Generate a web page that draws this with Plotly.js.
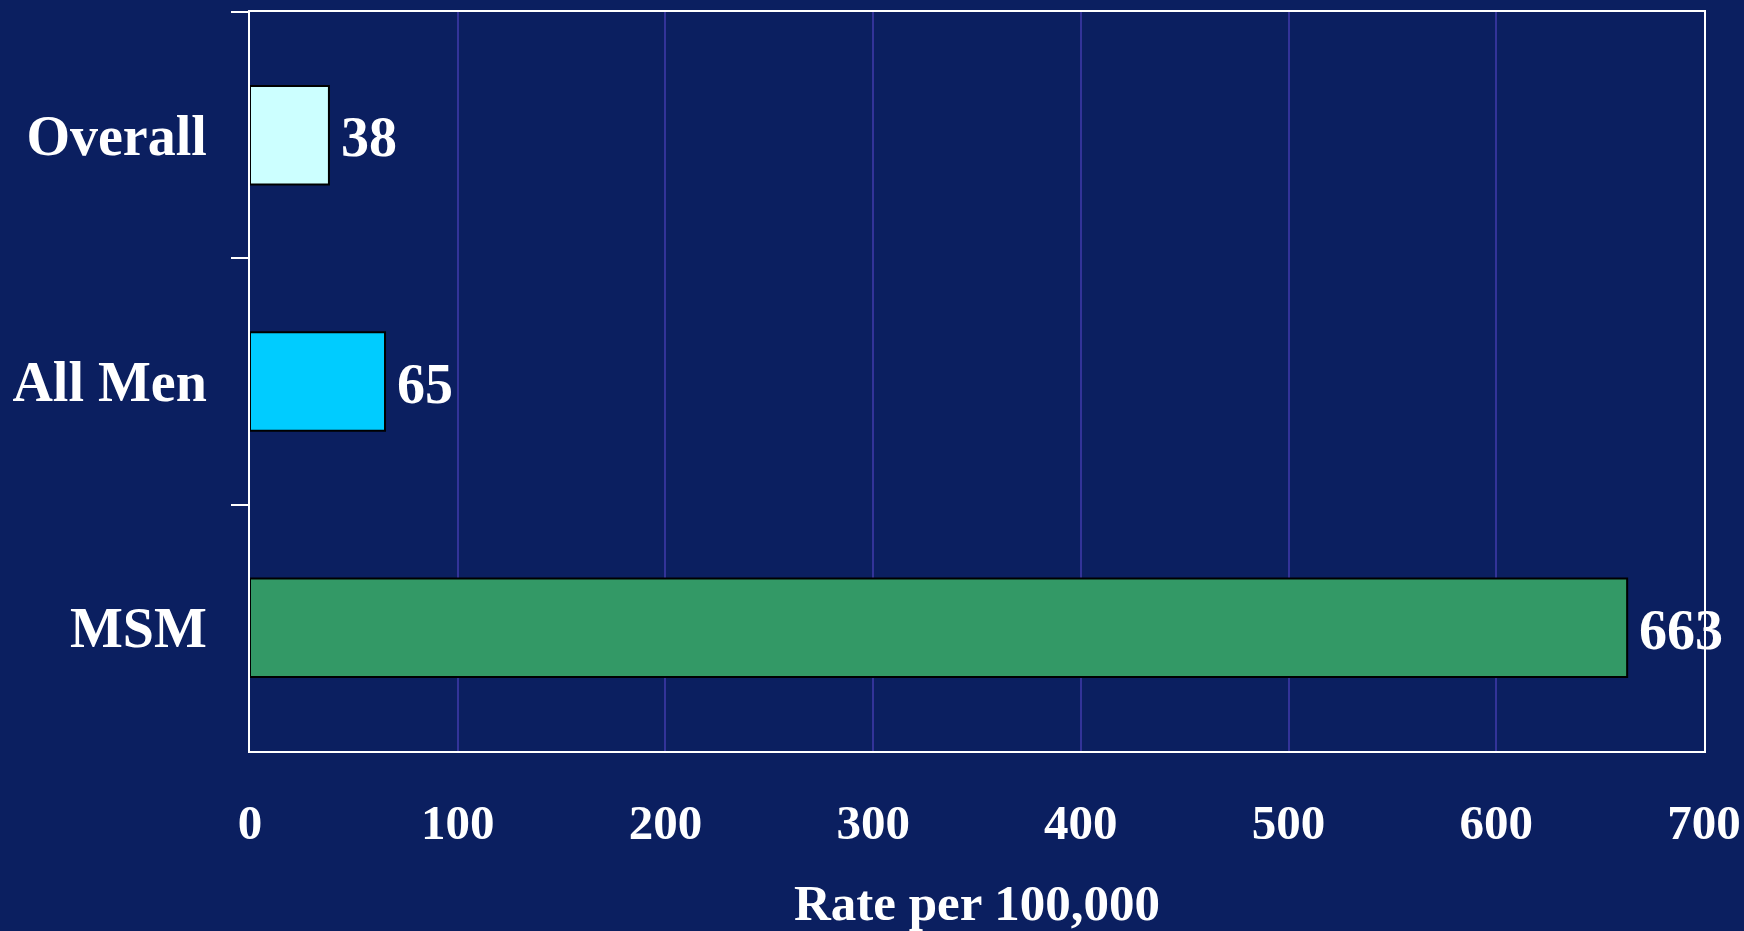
<!DOCTYPE html>
<html>
<head>
<meta charset="utf-8">
<script src="https://cdn.plot.ly/plotly-3.0.1.min.js"></script>
<style>
  html, body { margin: 0; padding: 0; background: #0b1f60; }
  #chart { width: 1744px; height: 931px; }
</style>
</head>
<body>
<div id="chart"></div>
<script>
// Rate per 100,000 by group
const categories = ["Overall", "All Men", "MSM"];
const rates = [38, 65, 663];
const barColors = ["#ccffff", "#00ccff", "#339966"];
const xTickValues = [0, 100, 200, 300, 400, 500, 600, 700];

const serif = "'Liberation Serif', 'Times New Roman', Times, serif";
const bg = "#0b1f60";

const trace = {
  type: "bar",
  orientation: "h",
  y: categories,
  x: rates,
  marker: { color: barColors, line: { color: "#000000", width: 2 } },
  hoverinfo: "none",
  cliponaxis: false
};

// value labels placed just past the end of each bar
const valueLabels = categories.map((c, i) => ({
  x: rates[i],
  y: c,
  xref: "x",
  yref: "y",
  text: String(rates[i]),
  showarrow: false,
  xanchor: "left",
  yanchor: "middle",
  xshift: 10,
  yshift: -2,
  font: { family: serif, size: 56, color: "#ffffff", weight: "bold" }
}));

const layout = {
  width: 1744,
  height: 931,
  paper_bgcolor: bg,
  plot_bgcolor: bg,
  margin: { l: 250, r: 40, t: 12, b: 180 },
  showlegend: false,
  bargap: 0.6,
  xaxis: {
    range: [0, 700],
    tickvals: xTickValues,
    ticktext: xTickValues.map(String),
    ticks: "",
    ticklabelstandoff: 27,
    tickfont: { family: serif, size: 49, color: "#ffffff", weight: "bold" },
    showgrid: true,
    gridcolor: "#333399",
    gridwidth: 2,
    zeroline: false,
    showline: true,
    linecolor: "#ffffff",
    linewidth: 2,
    mirror: true,
    fixedrange: true,
    title: {
      text: "Rate per 100,000",
      font: { family: serif, size: 51, color: "#ffffff", weight: "bold" },
      standoff: 42
    }
  },
  yaxis: {
    type: "category",
    autorange: "reversed",
    tickson: "boundaries",
    ticks: "outside",
    ticklen: 17,
    tickwidth: 2,
    tickcolor: "#ffffff",
    ticklabelstandoff: 30,
    tickfont: { family: serif, size: 56, color: "#ffffff", weight: "bold" },
    showgrid: false,
    zeroline: false,
    showline: true,
    linecolor: "#ffffff",
    linewidth: 2,
    mirror: true,
    fixedrange: true
  },
  annotations: valueLabels
};

Plotly.newPlot("chart", [trace], layout, { displayModeBar: false, staticPlot: true });
</script>
</body>
</html>
